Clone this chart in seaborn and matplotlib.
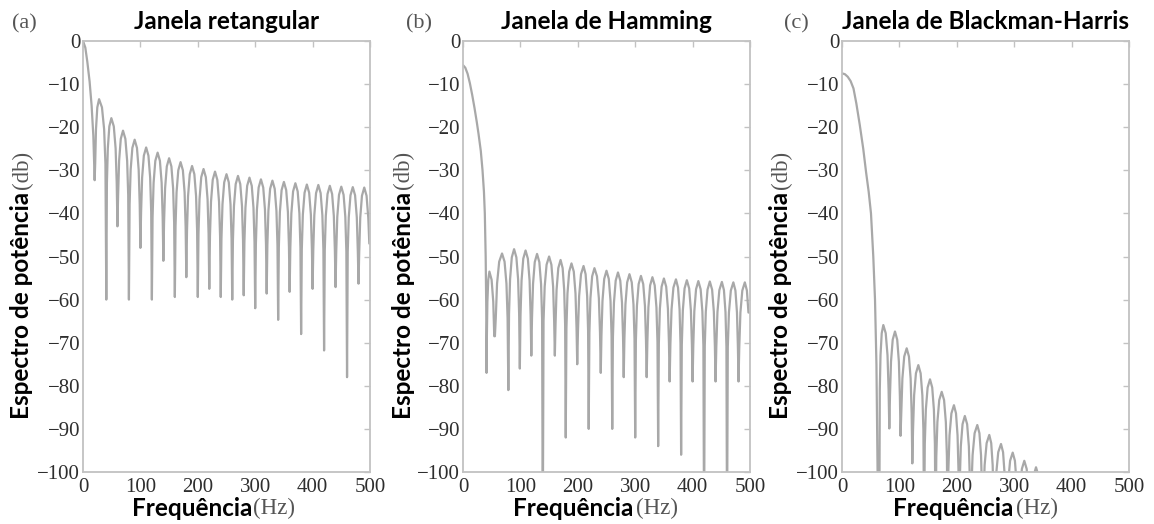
import matplotlib
matplotlib.use('Agg')
import matplotlib.pyplot as plt
import seaborn as sns

# Values (frequency in Hz, level in dB)
# (a) rectangular window
rect_main_hz = [0, 4, 7.5, 11.5, 15, 18]
rect_main_db = [0, -1.5, -4.8, -9.4, -15, -22]
rect_null_hz = [20.3, 40.6, 60, 80, 100, 120, 140, 160, 180, 200, 220, 240, 260,
                280, 300, 320, 340, 360, 380, 400, 420, 440, 460, 480, 500]
rect_null_db = [-32.3, -60, -43, -60, -48, -60, -51, -59.4, -54.8, -59.4, -57.5, -59.4, -60,
                -59, -62, -58.6, -64.7, -58.2, -68, -57.5, -71.8, -57.1, -78, -56.3, -47]
rect_peak_hz = [28, 49.4, 69.7, 90, 110, 130, 150, 170, 190, 210, 230, 250,
                270, 290, 310, 330, 350, 370, 390, 410, 430, 450, 470, 490]
rect_peak_db = [-13.5, -17.9, -20.8, -22.9, -24.7, -25.9, -27.2, -28.1, -29, -29.7, -30.3, -30.9,
                -31.3, -31.7, -32.1, -32.4, -32.7, -33, -33.3, -33.4, -33.6, -33.8, -33.9, -34]

# (b) Hamming window
hamm_main_hz = [0, 4, 8, 12, 16, 20, 24, 27, 31, 34, 36.5, 38, 39.5, 40.5]
hamm_main_db = [-5.6, -6.2, -7.6, -9.8, -12.5, -15.5, -18.8, -21.5, -25.5, -30, -35, -40, -50, -62]
hamm_null_hz = [41, 55.6, 79, 99, 119, 139, 160, 179, 199, 219, 240, 260,
                280, 300, 320, 340, 360, 380, 400, 420, 440, 460, 480, 500]
hamm_null_db = [-77, -68.5, -81, -76, -73, -115, -73, -92, -75, -90, -77, -90,
                -78, -92, -78, -94, -79, -96, -79, -115, -79, -115, -79, -63]
hamm_peak_hz = [46, 68, 89, 109, 129, 150, 170, 189, 210, 229, 250, 270,
                290, 310, 330, 350, 371, 390, 410, 430, 451, 471, 491]
hamm_peak_db = [-53.5, -49.3, -48.3, -48.6, -49.4, -50, -50.8, -51.6, -52.2, -52.7, -53.3, -53.7,
                -54.1, -54.5, -54.8, -55.1, -55.3, -55.5, -55.7, -55.8, -55.9, -56, -56]

# (c) Blackman-Harris window
bh_main_hz = [0, 5, 10, 15, 20, 25, 31, 37, 42, 46.5, 50.5, 54.5, 57.5, 60, 62]
bh_main_db = [-7.5, -7.7, -8.3, -9.3, -11, -14.5, -19.5, -25, -30.5, -35, -40, -50, -60, -75, -100]
bh_null_hz = [65, 82.4, 102, 122.5, 143, 163, 184, 204, 224, 245, 265, 286, 307, 328, 348]
bh_null_db = [-115, -89.9, -91.6, -98, -115, -115, -115, -115, -115, -115, -115, -115, -115, -115, -115]
bh_peak_hz = [72, 92.3, 112.7, 133, 153.3, 173.7, 195, 214, 235.7, 256.6, 277, 297.4, 317.6, 338]
bh_peak_db = [-65.9, -67.4, -71.3, -75.2, -78.5, -81.4, -84.5, -87, -89.1, -91.4, -93.5, -95.5, -97.4, -98.9]

panel_tags = ['(a)', '(b)', '(c)']
titles = ['Janela retangular', 'Janela de Hamming', 'Janela de Blackman-Harris']
x_ticks = [0, 100, 200, 300, 400, 500]
y_ticks = [0, -10, -20, -30, -40, -50, -60, -70, -80, -90, -100]

# rounded sidelobe top: fraction of half-width from the peak, dB below the peak
LOBE_U = [0.4, 0.7, 0.88]
LOBE_DROP = [1.9, 7, 15]

LINE = '#a8a8a8'
SPINE = '#c2c2c2'
TXT = '#2e2e2e'
SANS = ['Lato', 'DejaVu Sans']
SERIF = ['Liberation Serif', 'DejaVu Serif']


def trace(main_hz, main_db, null_hz, null_db, peak_hz, peak_db):
    xs, ys = list(main_hz), list(main_db)
    for k, (fp, p) in enumerate(zip(peak_hz, peak_db)):
        fl, dl = null_hz[k], null_db[k]
        fr, dr = null_hz[k + 1], null_db[k + 1]
        xs.append(fl); ys.append(dl)
        for u, d in zip(LOBE_U[::-1], LOBE_DROP[::-1]):
            xs.append(fp - u * (fp - fl)); ys.append(max(p - d, dl))
        xs.append(fp); ys.append(p)
        for u, d in zip(LOBE_U, LOBE_DROP):
            xs.append(fp + u * (fr - fp)); ys.append(max(p - d, dr))
    xs.append(null_hz[-1]); ys.append(null_db[-1])
    return xs, ys


series = [
    trace(rect_main_hz, rect_main_db, rect_null_hz, rect_null_db, rect_peak_hz, rect_peak_db),
    trace(hamm_main_hz, hamm_main_db, hamm_null_hz, hamm_null_db, hamm_peak_hz, hamm_peak_db),
    trace(bh_main_hz, bh_main_db, bh_null_hz, bh_null_db, bh_peak_hz, bh_peak_db),
]

sns.set_style('white')
plt.rcParams['font.family'] = SERIF

W, H = 1154, 524
fig = plt.figure(figsize=(W / 100, H / 100), dpi=100)

lefts = [83, 463, 842]
tag_x = [12, 406, 784]
ylab_x = [22, 403.5, 781]
xlab_x = [192.5, 573, 953]
top, bottom = 41, 472


def fx(px):
    return px / W


def fy(py):
    return 1 - py / H


for i, (xs, ys) in enumerate(series):
    ax = fig.add_axes([fx(lefts[i]), fy(bottom), 287 / W, (bottom - top) / H])
    sns.lineplot(x=xs, y=ys, ax=ax, color=LINE, linewidth=1.6, sort=False, estimator=None)
    ax.set_xlim(0, 500)
    ax.set_ylim(-100, 0)
    ax.set_xticks(x_ticks)
    ax.set_yticks(y_ticks)
    ax.set_xlabel('')
    ax.set_ylabel('')
    ax.tick_params(direction='in', top=True, right=True, length=4, width=1, color=SPINE,
                   labelsize=15, labelcolor=TXT, pad=2)
    ax.tick_params(axis='x', pad=4)
    for s in ax.spines.values():
        s.set_color(SPINE)
        s.set_linewidth(1.3)

    cx = lefts[i] + 287 / 2
    fig.text(fx(cx), fy(29), titles[i], ha='center', va='baseline', fontsize=17.5,
             fontweight='bold', family=SANS, color='black')
    fig.text(fx(tag_x[i]), fy(28), panel_tags[i], ha='left', va='baseline', fontsize=16,
             color='#555555')

    xl = fig.text(fx(xlab_x[i]), fy(508), 'Frequência', ha='center', va='center', fontsize=17.5,
                  fontweight='bold', family=SANS, color='black')
    ax.annotate('(Hz)', xy=(1, 0.5), xycoords=xl, xytext=(2 if i else 0.5, 0),
                textcoords='offset points', ha='left', va='center', fontsize=16.5,
                color='#555555', annotation_clip=False)

    yl = fig.text(fx(ylab_x[i]), fy(305), 'Espectro de potência', ha='center', va='center',
                  rotation=90, fontsize=17.5, fontweight='bold', family=SANS, color='black')
    ax.annotate('(db)', xy=(0.5, 1), xycoords=yl, xytext=(0, 2), textcoords='offset points',
                ha='center', va='bottom', rotation=90, fontsize=16.5, color='#555555',
                annotation_clip=False)

fig.savefig('out.png', dpi=100)
